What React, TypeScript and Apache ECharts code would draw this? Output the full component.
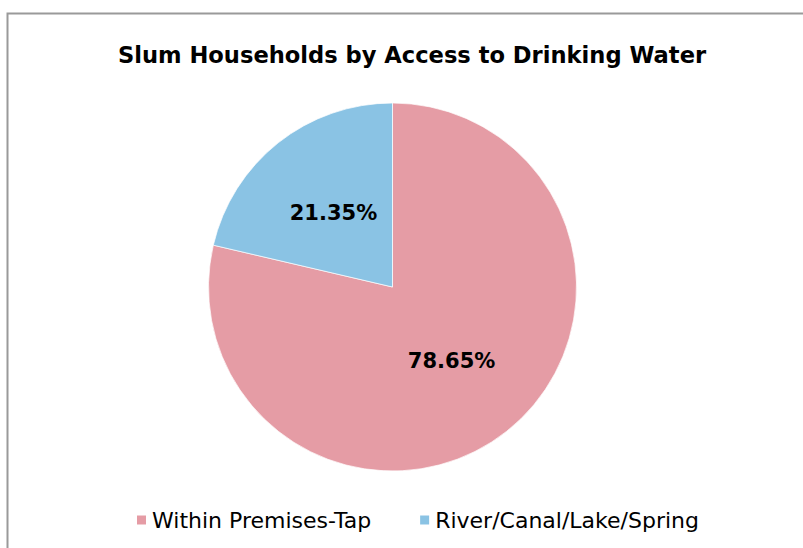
import React, { useEffect, useRef } from "react";
import * as echarts from "echarts";

const titleText = "Slum Households by Access to Drinking Water";
const categories = ["Within Premises-Tap", "River/Canal/Lake/Spring"];
const shares = [78.65, 21.35];
const colors = ["#E59CA5", "#8AC3E4"];

export default function App() {
  const ref = useRef<HTMLDivElement>(null);
  useEffect(() => {
    document.body.style.margin = "0";
    const chart = echarts.init(ref.current!, null, { renderer: "svg" });
    chart.setOption({
      animation: false,
      backgroundColor: "#ffffff",
      title: {
        text: titleText,
        left: 407,
        top: 38,
        textAlign: "center",
        textStyle: {
          fontFamily: "DejaVu Sans",
          fontWeight: "bold",
          fontSize: 22.6,
          color: "#000000",
        },
      },
      graphic: [
        {
          type: "polyline",
          shape: { points: [[7.5, 560], [7.5, 13.5], [820, 13.5]] },
          style: { stroke: "#9a9a9a", lineWidth: 2, fill: "none" },
          silent: true,
        },
      ],
      legend: {
        left: 130,
        top: 504,
        itemWidth: 11,
        itemHeight: 11,
        itemGap: 47,
        icon: "rect",
        textStyle: { fontFamily: "DejaVu Sans", fontSize: 22, color: "#000000" },
        data: categories,
      },
      series: [
        {
          type: "pie",
          center: [392.5, 287],
          radius: 184,
          startAngle: 90,
          clockwise: true,
          itemStyle: { borderColor: "#ffffff", borderWidth: 0.7 },
          label: {
            show: true,
            position: "inside",
            formatter: (p: any) => p.value.toFixed(2) + "%",
            fontFamily: "DejaVu Sans",
            fontWeight: "bold",
            fontSize: 21,
            color: "#000000",
          },
          labelLine: { show: false },
          emphasis: { disabled: true },
          data: categories.map((c, i) => ({
            name: c,
            value: shares[i],
            itemStyle: { color: colors[i] },
          })),
        },
      ],
    });
    return () => chart.dispose();
  }, []);
  return <div ref={ref} style={{ width: 803, height: 548 }} />;
}
